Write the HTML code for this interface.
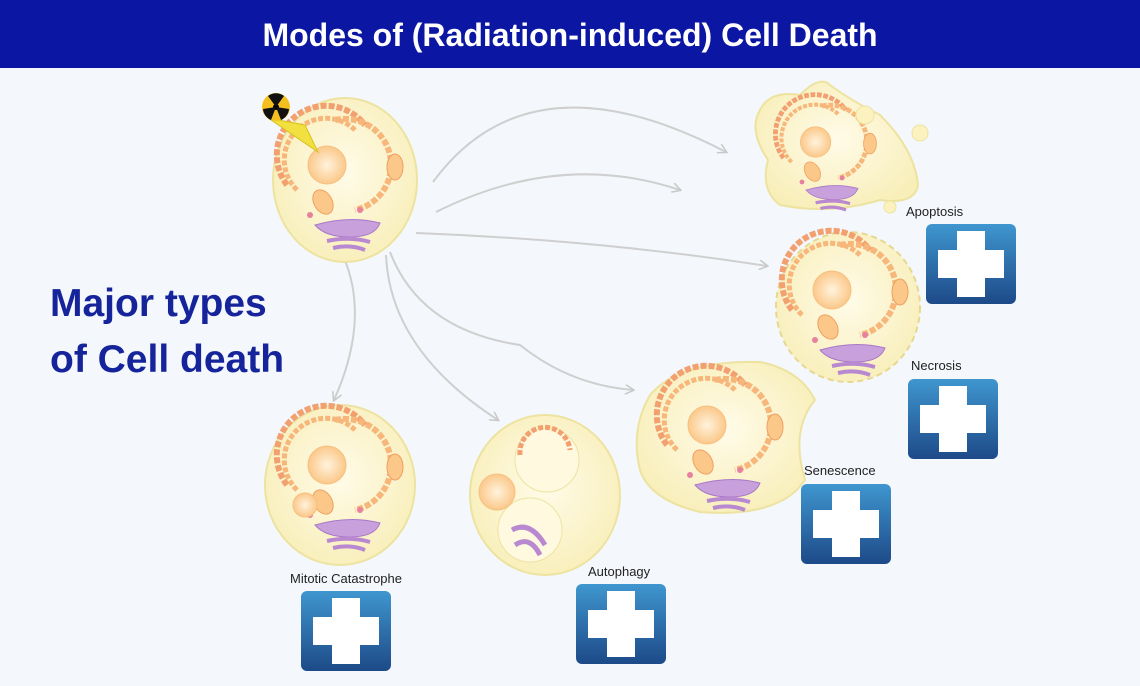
<!DOCTYPE html>
<html><head><meta charset="utf-8"><style>
body{margin:0;width:1140px;height:681px;overflow:hidden;background:#f4f7fb;font-family:"Liberation Sans",sans-serif}
</style></head><body>
<svg width="1140" height="681" viewBox="0 0 1140 681" xmlns="http://www.w3.org/2000/svg">
<defs>
<linearGradient id="bg" x1="0" y1="0" x2="0" y2="1"><stop offset="0" stop-color="#3f96cf"/><stop offset="1" stop-color="#1d4a88"/></linearGradient>
<radialGradient id="cf" cx="0.5" cy="0.45" r="0.6"><stop offset="0" stop-color="#fffbe8"/><stop offset="1" stop-color="#f8eeb8"/></radialGradient>
<radialGradient id="nu" cx="0.5" cy="0.5" r="0.5"><stop offset="0" stop-color="#fff3dc"/><stop offset="1" stop-color="#fbc88a"/></radialGradient>
<g id="plus"><rect width="90" height="80" rx="6" fill="url(#bg)"/><rect x="12" y="26" width="66" height="28" fill="#fff"/><rect x="31" y="7" width="28" height="66" fill="#fff"/></g>
<marker id="ar" markerWidth="10" markerHeight="10" refX="8" refY="5" orient="auto" markerUnits="userSpaceOnUse"><path d="M0,0 L9,5 L0,10" fill="none" stroke="#c8c8c8" stroke-width="1.5"/></marker>
<g id="org">
<path d="M-58,10 A44,44 0 0 1 20,-50" fill="none" stroke="#f2a070" stroke-width="6" stroke-dasharray="6 2"/>
<path d="M-48,15 A36,36 0 0 1 10,-45" fill="none" stroke="#f7b67a" stroke-width="5" stroke-dasharray="5 2"/>
<path d="M-10,-55 A46,46 0 0 1 10,35" fill="none" stroke="#f7b67a" stroke-width="6" stroke-dasharray="6 2"/>
<circle cx="-18" cy="-10" r="19" fill="url(#nu)" stroke="#f6c080"/>
<ellipse cx="-22" cy="27" rx="9" ry="13" fill="#fcc88a" stroke="#eea060" transform="rotate(-30 -22 27)"/>
<ellipse cx="50" cy="-8" rx="8" ry="13" fill="#fcc88a" stroke="#eea060"/>
<path d="M-30,50 Q5,40 35,48 Q30,62 5,62 Q-20,62 -30,50Z" fill="#c8a0dc" stroke="#a878c8"/>
<path d="M-18,66 Q5,61 25,67 M-12,73 Q5,69 20,75" stroke="#b888d0" stroke-width="4" fill="none"/>
<circle cx="-28" cy="52" r="0" />
<circle cx="-35" cy="40" r="3" fill="#e880a0"/><circle cx="15" cy="35" r="3" fill="#e880a0"/>
</g>
</defs>
<rect x="0" y="0" width="1140" height="68" fill="#0b16a2"/>
<text x="570" y="46" text-anchor="middle" fill="#fff" font-size="32" font-weight="bold">Modes of (Radiation-induced) Cell Death</text>

<g fill="none" stroke="#cfcfcf" stroke-width="2" marker-end="url(#ar)">
<path d="M433,182 Q530,50 726,152"/>
<path d="M436,212 Q560,150 680,190"/>
<path d="M416,233 Q600,240 767,266"/>
<path d="M390,252 Q420,330 520,345 Q570,385 633,390"/>
<path d="M386,255 Q390,350 498,420"/>
<path d="M344,258 Q370,320 334,400"/>
</g>

<!-- top-left cell -->
<ellipse cx="345" cy="180" rx="72" ry="82" fill="url(#cf)" stroke="#ede3a0" stroke-width="2"/>
<use href="#org" x="345" y="175"/>
<path d="M268,118 L318,152 L305,125Z" fill="#f2e040" stroke="#d8c020"/>
<circle cx="276" cy="107" r="14" fill="#f4c020"/><circle cx="276" cy="107" r="3" fill="#000"/>
<path d="M276,107 L268,96 A13,13 0 0 1 284,96Z M276,107 L289,109 A13,13 0 0 1 281,120Z M276,107 L271,120 A13,13 0 0 1 263,109Z" fill="#111"/>

<!-- apoptosis cell -->
<path d="M760,110 Q770,90 800,95 Q820,75 830,85 Q850,100 880,115 Q915,150 918,185 Q915,205 880,200 Q830,215 780,205 Q760,190 768,160 Q748,130 760,110Z" fill="url(#cf)" stroke="#ede3a0" stroke-width="2"/>
<use href="#org" transform="translate(830,150) scale(0.8)"/>
<circle cx="920" cy="133" r="8" fill="#fbf2c0" stroke="#ede3a0"/><circle cx="890" cy="207" r="6" fill="#fbf2c0" stroke="#ede3a0"/><circle cx="865" cy="115" r="9" fill="#fbf2c0" stroke="#ede3a0"/>

<!-- necrosis cell -->
<ellipse cx="848" cy="307" rx="72" ry="75" fill="url(#cf)" stroke="#e6d890" stroke-width="2" stroke-dasharray="6 4"/>
<use href="#org" x="850" y="300"/>

<!-- senescence -->
<path d="M650,395 Q680,360 760,362 Q800,370 815,400 Q790,430 805,480 Q780,518 700,512 Q650,500 640,470 Q630,430 650,395Z" fill="url(#cf)" stroke="#ede3a0" stroke-width="2"/>
<use href="#org" x="725" y="435"/>

<!-- autophagy -->
<ellipse cx="545" cy="495" rx="75" ry="80" fill="url(#cf)" stroke="#ede3a0" stroke-width="2"/>
<circle cx="547" cy="460" r="32" fill="#fff9e0" stroke="#ede3a0"/>
<path d="M520,455 A25,25 0 0 1 570,450" fill="none" stroke="#f2a070" stroke-width="5" stroke-dasharray="5 2"/>
<circle cx="530" cy="530" r="32" fill="#fff9e0" stroke="#ede3a0"/>
<circle cx="497" cy="492" r="18" fill="url(#nu)" stroke="#f6c080"/>
<path d="M512,530 Q530,520 545,545 M515,545 Q530,535 540,555" stroke="#b888d0" stroke-width="5" fill="none"/>

<!-- mitotic -->
<ellipse cx="340" cy="485" rx="75" ry="80" fill="url(#cf)" stroke="#ede3a0" stroke-width="2"/>
<use href="#org" x="345" y="475"/>
<circle cx="305" cy="505" r="12" fill="url(#nu)" stroke="#f6c080"/>

<text x="50" y="316" fill="#15249a" font-size="39" font-weight="bold">Major types</text>
<text x="50" y="372" fill="#15249a" font-size="39" font-weight="bold">of Cell death</text>

<g font-size="13" fill="#222">
<text x="906" y="216">Apoptosis</text>
<text x="911" y="370">Necrosis</text>
<text x="804" y="475">Senescence</text>
<text x="588" y="576">Autophagy</text>
<text x="290" y="583">Mitotic Catastrophe</text>
</g>
<use href="#plus" x="926" y="224"/>
<use href="#plus" x="908" y="379"/>
<use href="#plus" x="801" y="484"/>
<use href="#plus" x="576" y="584"/>
<use href="#plus" x="301" y="591"/>
</svg>
</body></html>
